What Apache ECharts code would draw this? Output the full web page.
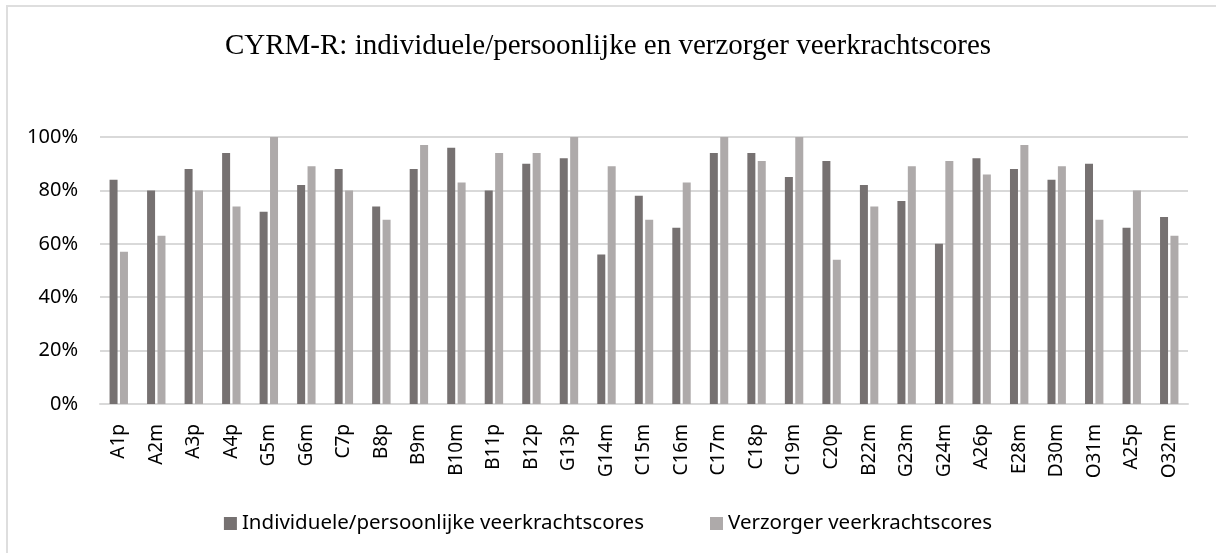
<!DOCTYPE html>
<html>
<head>
<meta charset="utf-8">
<script src="https://cdn.jsdelivr.net/npm/echarts@6/dist/echarts.min.js"></script>
<style>
  html, body { margin: 0; padding: 0; background: #fff; overflow: hidden; }
  #frame { position: absolute; left: 6px; top: 5px; width: 1230px; height: 570px; border: 2px solid #dedede; }
  #chart { position: absolute; left: 0; top: 0; width: 1216px; height: 553px; }
</style>
</head>
<body>
<div id="frame"></div>
<div id="chart"></div>
<script>
// categorieen (deelnemers)
var categories = ['A1p','A2m','A3p','A4p','G5m','G6m','C7p','B8p','B9m','B10m','B11p','B12p','G13p','G14m','C15m','C16m',
  'C17m','C18p','C19m','C20p','B22m','G23m','G24m','A26p','E28m','D30m','O31m','A25p','O32m'];
// individuele/persoonlijke scores (%)
var individueel = [84,80,88,94,72,82,88,74,88,96,80,90,92,56,78,66,94,94,85,91,82,76,60,92,88,84,90,66,70];
// verzorger scores (%)
var verzorger = [57,63,80,74,100,89,80,69,97,83,94,94,100,89,69,83,100,91,100,54,74,89,91,86,97,89,69,80,63];
var seriesNames = ['Individuele/persoonlijke veerkrachtscores', 'Verzorger veerkrachtscores'];
var yTicks = [0, 20, 40, 60, 80, 100];

var box = document.getElementById('chart');
var myChart = echarts.init(box);

var option = {
  animation: false,
  title: {
    text: 'CYRM-R: individuele/persoonlijke en verzorger veerkrachtscores',
    left: 'center',
    top: 27,
    textStyle: { fontFamily: 'Liberation Serif', fontWeight: 'normal', fontSize: 29, color: '#000' }
  },
  legend: {
    data: seriesNames,
    top: 508,
    left: 'center',
    itemWidth: 13,
    itemHeight: 13,
    itemGap: 66,
    icon: 'rect',
    textStyle: { fontFamily: 'Noto Sans', fontSize: 20.5, color: '#000' }
  },
  grid: { left: 100, right: 28, top: 137, bottom: 149 },
  xAxis: {
    type: 'category',
    data: categories,
    axisTick: { show: false },
    axisLine: { lineStyle: { color: '#d9d9d9', width: 2 } },
    axisLabel: { rotate: 90, interval: 0, margin: 20, fontFamily: 'Noto Sans', fontSize: 19, color: '#000' }
  },
  yAxis: {
    type: 'value',
    min: yTicks[0],
    max: yTicks[yTicks.length - 1],
    interval: 20,
    axisLine: { show: false },
    axisTick: { show: false },
    splitLine: { lineStyle: { color: '#d9d9d9', width: 2 } },
    axisLabel: { formatter: '{value}%', margin: 22, fontFamily: 'Noto Sans', fontSize: 20, color: '#000' }
  },
  series: [
    {
      name: seriesNames[0],
      type: 'bar',
      data: individueel,
      barWidth: 8,
      barGap: '30%',
      itemStyle: { color: '#767171' }
    },
    {
      name: seriesNames[1],
      type: 'bar',
      data: verzorger,
      barWidth: 8,
      itemStyle: { color: '#aeaaaa' }
    }
  ]
};

myChart.setOption(option);
</script>
</body>
</html>
